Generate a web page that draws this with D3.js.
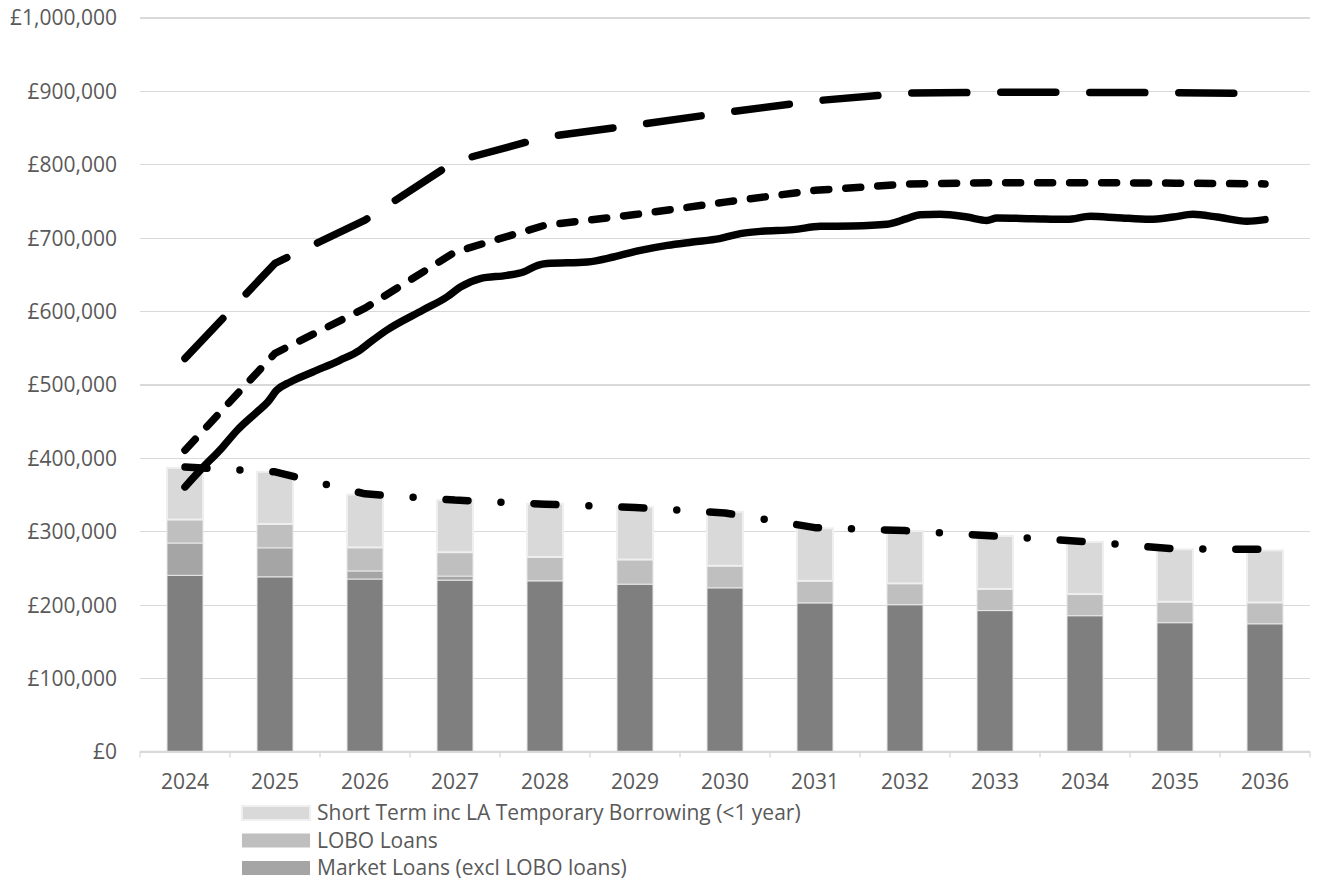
<!DOCTYPE html>
<html lang="en">
<head>
<meta charset="UTF-8">
<title>Borrowing</title>
<script src="https://cdn.jsdelivr.net/npm/d3@7"></script>
<style>
body{margin:0;background:#fff;}
svg text{font-family:"Open Sans",sans-serif;fill:#595959;}
.grid-line{stroke:#d9d9d9;stroke-width:1.3;shape-rendering:crispEdges;}
</style>
</head>
<body>
<div id="root"></div>
<script>
let years = [2024, 2025, 2026, 2027, 2028, 2029, 2030, 2031, 2032, 2033, 2034, 2035, 2036]

// stacked bars, bottom to top
let baseLoans   = [240000, 238000, 235000, 233500, 232500, 228000, 223000, 202500, 200000, 192000, 185000, 175500, 174000]
let marketLoans = [44000, 39500, 11000, 5500, 0, 0, 0, 0, 0, 0, 0, 0, 0]
let loboLoans   = [32000, 32500, 32000, 32500, 32500, 33500, 30000, 30000, 29000, 29500, 29500, 28500, 29000]
let shortTerm   = [70500, 71000, 72000, 71000, 72500, 71500, 73500, 71500, 71500, 72000, 71000, 71500, 71000]

// lines
let longDashLine  = [535500, 665000, 724000, 804000, 837000, 853500, 870500, 886500, 897000, 898000, 898000, 897500, 896500]
let shortDashLine = [410500, 542500, 604000, 680500, 717000, 731500, 748500, 764500, 773000, 775000, 775000, 774300, 773300]
let dashDotLine   = [387500, 381000, 351000, 342500, 337000, 332500, 325000, 305000, 301000, 293500, 286000, 276000, 275500]

let solidTimes = [2024.00, 2024.17, 2024.42, 2024.58, 2024.80, 2024.92, 2025.02, 2025.17, 2025.42, 2025.72,
                  2025.94, 2026.06, 2026.24, 2026.64, 2026.91, 2027.06, 2027.28, 2027.58, 2027.76, 2027.92,
                  2028.02, 2028.47, 2028.76, 2029.06, 2029.36, 2029.64, 2029.94, 2030.17, 2030.39, 2030.76,
                  2031.06, 2031.42, 2031.80, 2032.02, 2032.17, 2032.39, 2032.69, 2032.91, 2033.02, 2033.42,
                  2033.80, 2034.06, 2034.36, 2034.72, 2034.98, 2035.20, 2035.47, 2035.80, 2036.00]
let solidValues = [360500, 383300, 415000, 437700, 462600, 476200, 492200, 503500, 517100, 533000,
                   546600, 557900, 573900, 601100, 619200, 632800, 644300, 648700, 653200, 662400,
                   664700, 666900, 673700, 682800, 689600, 694100, 698700, 705500, 708600, 711000,
                   715500, 715900, 718200, 725900, 731400, 731800, 728100, 723600, 726800, 725900,
                   725000, 729100, 727300, 725000, 728100, 731800, 728100, 722300, 724600]

let yTicks = [0, 100000, 200000, 300000, 400000, 500000, 600000, 700000, 800000, 900000, 1000000]
let legendLabels = ["Short Term inc LA Temporary Borrowing (<1 year)", "LOBO Loans", "Market Loans (excl LOBO loans)"]
let legendColors = ["#d9d9d9", "#bfbfbf", "#a5a5a5"]

let width = 1327, height = 886
let svg = d3.select("#root").append("svg").attr("width", width).attr("height", height)

let x = d3.scaleBand().domain(years).range([140, 1310]).paddingInner(0.6).paddingOuter(0.3)
let y = d3.scaleLinear().domain([0, 1000000]).range([751.5, 17.5])
let half = x.bandwidth() / 2
let xt = d3.scaleLinear().domain([2024, 2036]).range([x(2024) + half, x(2036) + half])

// y axis + gridlines
let yAxis = d3.axisLeft(y).tickValues(yTicks).tickSize(-1170).tickPadding(23)
    .tickFormat(d => "£" + d3.format(",")(d))
let gy = svg.append("g").attr("transform", "translate(140,0)").call(yAxis)
gy.select(".domain").remove()
gy.selectAll(".tick line").attr("class", "grid-line")
gy.selectAll(".tick text").style("font-size", "21px").attr("dy", "0.35em")

// x axis labels
let xAxis = d3.axisBottom(x).tickSize(0).tickPadding(23)
let gx = svg.append("g").attr("transform", "translate(0,751.5)").call(xAxis)
gx.select(".domain").remove()
gx.selectAll(".tick text").style("font-size", "21px")

// category boundary ticks
let bounds = d3.range(years.length + 1).map(i => x.range()[0] + i * x.step())
svg.append("g").selectAll("line").data(bounds).join("line")
    .attr("x1", d => d).attr("x2", d => d)
    .attr("y1", 751.5).attr("y2", 757.5)
    .attr("stroke", "#d9d9d9").attr("stroke-width", 1.3)

// stacked bars
let rows = years.map((yr, i) => ({year: yr, base: baseLoans[i], market: marketLoans[i], lobo: loboLoans[i], short: shortTerm[i]}))
let keys = ["base", "market", "lobo", "short"]
let colors = {base: "#7f7f7f", market: "#a5a5a5", lobo: "#bfbfbf", short: "#d9d9d9"}
let stack = d3.stack().keys(keys)(rows)

svg.append("g").selectAll("g").data(stack).join("g")
    .attr("fill", d => colors[d.key])
    .attr("stroke", d => d.key == "short" ? "#efefef" : "#e8e8e8")
    .attr("stroke-width", d => d.key == "short" ? 2 : 1)
    .selectAll("rect").data(d => d.filter(s => s[1] > s[0])).join("rect")
    .attr("x", d => x(d.data.year))
    .attr("width", x.bandwidth())
    .attr("y", d => y(d[1]))
    .attr("height", d => y(d[0]) - y(d[1]))

// x axis baseline drawn over bar bottoms
svg.append("line").attr("x1", 140).attr("x2", 1310).attr("y1", 751.5).attr("y2", 751.5)
    .attr("stroke", "#d9d9d9").attr("stroke-width", 1.3)

// lines
let line = d3.line().x(d => xt(d[0])).y(d => y(d[1]))
let smooth = d3.line().x(d => xt(d[0])).y(d => y(d[1])).curve(d3.curveMonotoneX)

function drawLine(points, gen, dash) {
    svg.append("path").datum(points)
        .attr("d", gen)
        .attr("fill", "none")
        .attr("stroke", "#000")
        .attr("stroke-width", 7.5)
        .attr("stroke-linecap", "round")
        .attr("stroke-linejoin", "round")
        .attr("stroke-dasharray", dash)
}

drawLine(years.map((yr, i) => [yr, longDashLine[i]]), line, "55 34")
drawLine(years.map((yr, i) => [yr, shortDashLine[i]]), line, "15 17")
drawLine(solidTimes.map((t, i) => [t, solidValues[i]]), smooth, null)
drawLine(years.map((yr, i) => [yr, dashDotLine[i]]), line, "22 33 0 33")

// legend
let legend = svg.append("g").selectAll("g").data(legendLabels).join("g")
    .attr("transform", (d, i) => "translate(242," + (806 + i * 27.5) + ")")
legend.append("rect").attr("width", 68).attr("height", 14)
    .attr("fill", (d, i) => legendColors[i])
    .attr("stroke", (d, i) => i == 0 ? "#efefef" : "none").attr("stroke-width", 2)
legend.append("text").attr("x", 75).attr("y", 7).attr("dy", "0.35em")
    .style("font-size", "21px").text(d => d)
</script>
</body>
</html>
